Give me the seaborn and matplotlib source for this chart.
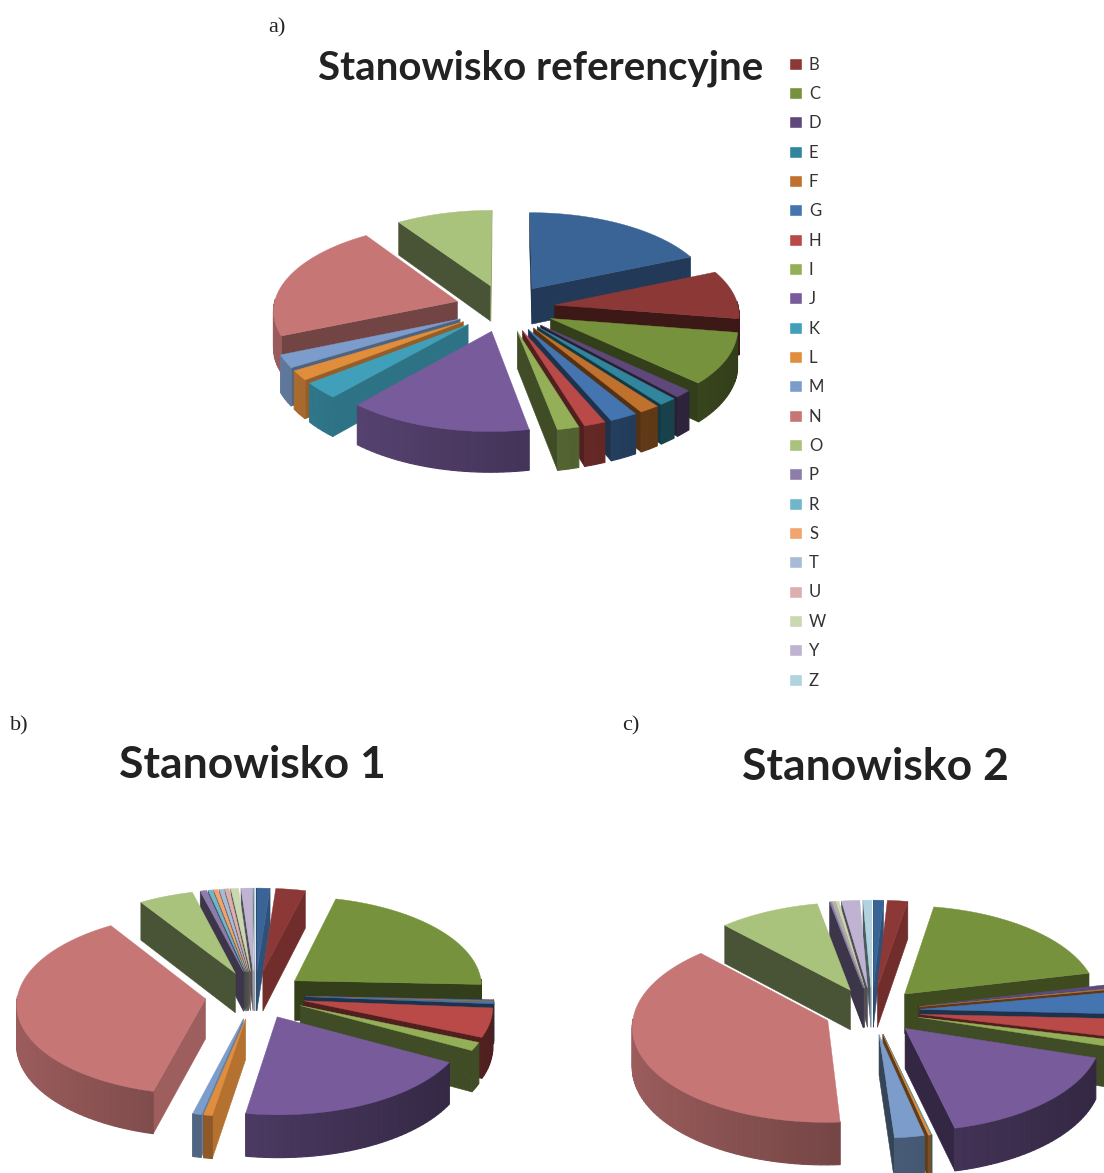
import numpy as np
import matplotlib
matplotlib.use("Agg")
import matplotlib.pyplot as plt
from matplotlib.patches import Patch, Polygon
from matplotlib.colors import to_rgb
import seaborn as sns

# serie A jest na wykresach, ale nie ma jej w legendzie
categories = ['A', 'B', 'C', 'D', 'E', 'F', 'G', 'H', 'I', 'J', 'K', 'L',
              'M', 'N', 'O', 'P', 'R', 'S', 'T', 'U', 'W', 'Y', 'Z']
colors = ['#3A6496', '#8C3836', '#76923C', '#5F497A', '#31859C', '#C0712E',
          '#4575B0', '#B94A48', '#93B058', '#775B9B', '#40A0BA', '#E08D3C',
          '#7C9DCB', '#C77676', '#A9C27C', '#8E7CAB', '#6FB5CC', '#F1A46E',
          '#A8BBD6', '#DBAFAE', '#C9D8B0', '#BFB3D1', '#AFD3DF']

vals_ref = [18.5, 9, 9.5, 1.4, 1.4, 1.6, 2.2, 1.7, 1.7, 14.4, 3, 1.8,
            2.4, 22, 9.4, 0, 0, 0, 0, 0, 0, 0, 0]
vals_1 = [1.2, 2.7, 21.7, 0.1, 0.1, 0.1, 0.3, 5.2, 1.5, 19.6, 0, 0.7,
          0.7, 36.9, 5, 0.6, 0.4, 0.4, 0.4, 0.4, 0.7, 1, 0.1]
vals_2 = [0.9, 1.8, 18.6, 0.6, 0.05, 0.1, 3.6, 3, 1.1, 16.4, 0.05, 0.2,
          2.3, 39, 9, 0.1, 0.05, 0.05, 0.1, 0.1, 0.3, 1.6, 0.7]


def shade(col, f):
    return tuple(min(1, c * f) for c in to_rgb(col))


def pie3d(ax, values, palette, cx, cy, r, expl, squash, depth, persp):
    values = np.array(values, dtype=float)
    edges = np.concatenate([[0], np.cumsum(values)]) / values.sum() * 2 * np.pi

    def project(x, y, z=0):
        s = 1 / (1 + y / persp)
        return cx + x * s, cy - squash * y * s + z * s

    order = []
    for i, v in enumerate(values):
        if v <= 0:
            continue
        mid = (edges[i] + edges[i + 1]) / 2
        order.append((np.cos(mid), i))

    # od tylu do przodu
    for _, i in sorted(order, reverse=True):
        a0, a1 = edges[i], edges[i + 1]
        mid = (a0 + a1) / 2
        ox, oy = expl * np.sin(mid), expl * np.cos(mid)
        col = palette[i]
        n = max(2, int((a1 - a0) / 0.03))
        ang = np.linspace(a0, a1, n)
        px = ox + r * np.sin(ang)
        py = oy + r * np.cos(ang)

        # sciany promieniowe
        for a, sign, ex, ey in [(a0, -1, px[0], py[0]), (a1, 1, px[-1], py[-1])]:
            nx, ny = sign * np.cos(a), -sign * np.sin(a)
            if ny < 0.02:
                q = [project(ox, oy), project(ex, ey), project(ex, ey, depth), project(ox, oy, depth)]
                f = 0.43 + 0.38 * max(0, nx)
                ax.add_patch(Polygon(q, fc=shade(col, f), ec=shade(col, f), lw=0.4))

        # sciana zewnetrzna
        for k in range(n - 1):
            am = (ang[k] + ang[k + 1]) / 2
            if np.cos(am) > 0.03:
                continue
            f = 0.78 - 0.36 * (np.sin(am) + 1) / 2
            q = [project(px[k], py[k]), project(px[k + 1], py[k + 1]),
                 project(px[k + 1], py[k + 1], depth), project(px[k], py[k], depth)]
            ax.add_patch(Polygon(q, fc=shade(col, f), ec=shade(col, f), lw=0.8))

        top = [project(ox, oy)] + [project(x, y) for x, y in zip(px, py)]
        ax.add_patch(Polygon(top, fc=col, ec=col, lw=0.3))


sns.set_theme(style="white")
plt.rcParams['font.family'] = ['Lato', 'DejaVu Sans']
palette = sns.color_palette(colors)

fig = plt.figure(figsize=(11.04, 11.73), dpi=100)
ax = fig.add_axes([0, 0, 1, 1])
ax.set_xlim(0, 1104)
ax.set_ylim(1173, 0)
ax.axis('off')

pie3d(ax, vals_ref, palette, 505, 308, 184, 50, 0.47, 36, 2000)
pie3d(ax, vals_1, palette, 255, 995, 188, 50, 0.48, 40, 3500)
pie3d(ax, vals_2, palette, 872, 1011, 194, 48, 0.49, 40, 3500)

ax.text(541, 68, 'Stanowisko referencyjne', ha='center', va='center',
        fontsize=29, fontweight='bold', color='#222222')
ax.text(252, 765, 'Stanowisko 1', ha='center', va='center',
        fontsize=32, fontweight='bold', color='#222222')
ax.text(875, 767, 'Stanowisko 2', ha='center', va='center',
        fontsize=32, fontweight='bold', color='#222222')

for lab, x, y in [('a)', 268, 28), ('b)', 10, 726), ('c)', 622, 726)]:
    ax.text(x, y, lab, ha='left', va='center', fontsize=16,
            family='Liberation Serif', color='#222222')

handles = [Patch(fc=palette[i], label=categories[i]) for i in range(1, len(categories))]
leg = ax.legend(handles=handles, loc='upper left', bbox_to_anchor=(789 / 1104, 1 - 56.5 / 1173),
                frameon=False, fontsize=12, labelspacing=0.8, handlelength=0.8,
                handleheight=0.75, handletextpad=0.4, borderpad=0, borderaxespad=0)
for t in leg.get_texts():
    t.set_color('#333333')

fig.savefig('out.png', dpi=100)
